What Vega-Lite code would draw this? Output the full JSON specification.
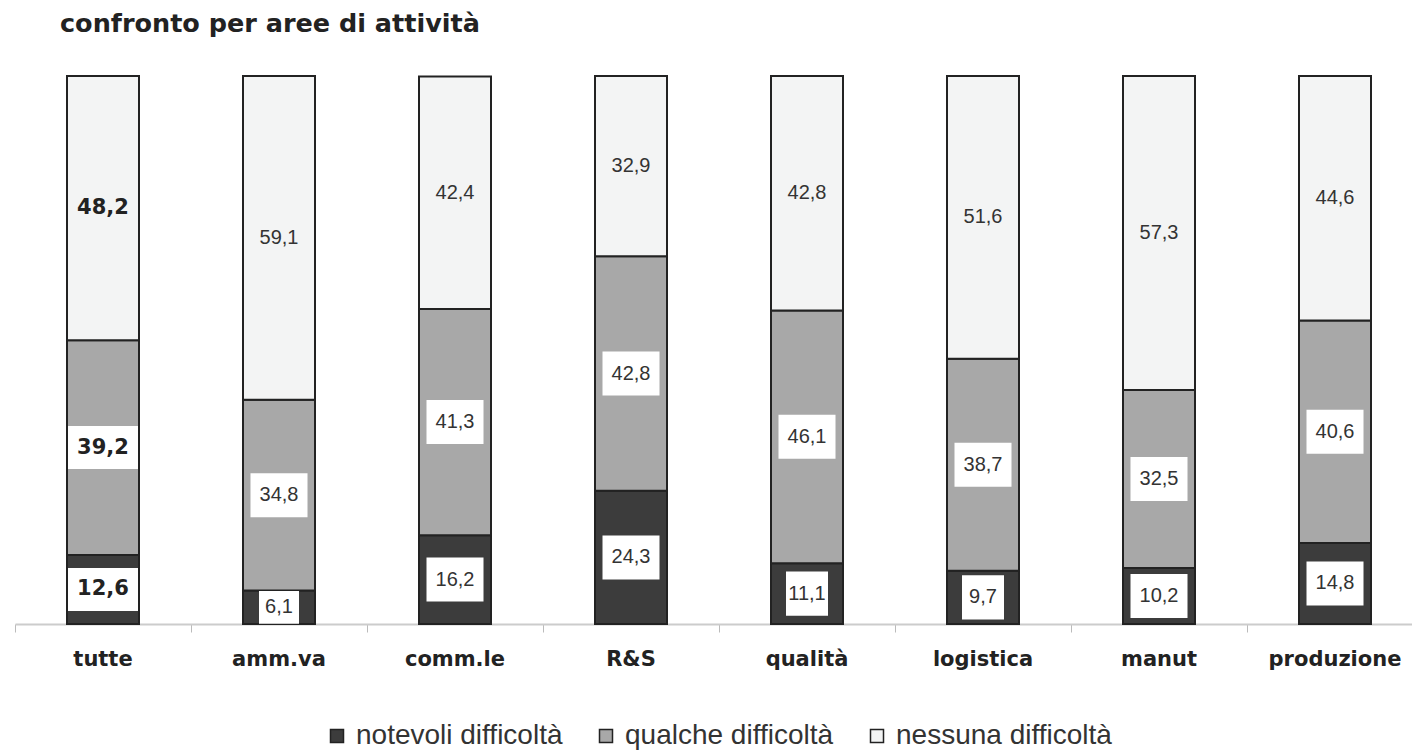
{
  "$schema": "https://vega.github.io/schema/vega-lite/v6.json",
  "width": 1397,
  "height": 548,
  "autosize": "none",
  "padding": {"left": 15, "top": 76, "right": 0, "bottom": 132},
  "background": "white",
  "config": {
    "view": {"stroke": null},
    "locale": {"number": {"decimal": ",", "thousands": ".", "grouping": [3], "currency": ["", " €"]}}
  },
  "title": {
    "text": "confronto per aree di attività",
    "anchor": "start",
    "frame": "group",
    "dx": 45,
    "offset": 18,
    "baseline": "alphabetic",
    "font": "DejaVu Sans",
    "fontSize": 25.5,
    "fontWeight": "bold",
    "color": "#222222"
  },
  "data": {
    "values": [
      {"area": "tutte", "tipo": "notevoli difficoltà", "k": 1, "value": 12.6},
      {"area": "tutte", "tipo": "qualche difficoltà", "k": 2, "value": 39.2},
      {"area": "tutte", "tipo": "nessuna difficoltà", "k": 3, "value": 48.2},
      {"area": "amm.va", "tipo": "notevoli difficoltà", "k": 1, "value": 6.1},
      {"area": "amm.va", "tipo": "qualche difficoltà", "k": 2, "value": 34.8},
      {"area": "amm.va", "tipo": "nessuna difficoltà", "k": 3, "value": 59.1},
      {"area": "comm.le", "tipo": "notevoli difficoltà", "k": 1, "value": 16.2},
      {"area": "comm.le", "tipo": "qualche difficoltà", "k": 2, "value": 41.3},
      {"area": "comm.le", "tipo": "nessuna difficoltà", "k": 3, "value": 42.4},
      {"area": "R&S", "tipo": "notevoli difficoltà", "k": 1, "value": 24.3},
      {"area": "R&S", "tipo": "qualche difficoltà", "k": 2, "value": 42.8},
      {"area": "R&S", "tipo": "nessuna difficoltà", "k": 3, "value": 32.9},
      {"area": "qualità", "tipo": "notevoli difficoltà", "k": 1, "value": 11.1},
      {"area": "qualità", "tipo": "qualche difficoltà", "k": 2, "value": 46.1},
      {"area": "qualità", "tipo": "nessuna difficoltà", "k": 3, "value": 42.8},
      {"area": "logistica", "tipo": "notevoli difficoltà", "k": 1, "value": 9.7},
      {"area": "logistica", "tipo": "qualche difficoltà", "k": 2, "value": 38.7},
      {"area": "logistica", "tipo": "nessuna difficoltà", "k": 3, "value": 51.6},
      {"area": "manut", "tipo": "notevoli difficoltà", "k": 1, "value": 10.2},
      {"area": "manut", "tipo": "qualche difficoltà", "k": 2, "value": 32.5},
      {"area": "manut", "tipo": "nessuna difficoltà", "k": 3, "value": 57.3},
      {"area": "produzione", "tipo": "notevoli difficoltà", "k": 1, "value": 14.8},
      {"area": "produzione", "tipo": "qualche difficoltà", "k": 2, "value": 40.6},
      {"area": "produzione", "tipo": "nessuna difficoltà", "k": 3, "value": 44.6}
    ]
  },
  "encoding": {
    "x": {
      "field": "area",
      "type": "nominal",
      "sort": null,
      "scale": {"paddingInner": 0, "paddingOuter": 0, "range": [0, 1408]},
      "axis": {
        "title": null,
        "bandPosition": 0,
        "labelAngle": 0,
        "labelFont": "DejaVu Sans",
        "labelFontWeight": "bold",
        "labelFontSize": 21,
        "labelColor": "#222222",
        "labelPadding": 16,
        "domainColor": "#cccccc",
        "domainWidth": 2,
        "tickColor": "#bbbbbb",
        "tickSize": 8,
        "tickWidth": 1
      }
    },
    "order": {"field": "k", "type": "quantitative"}
  },
  "layer": [
    {
      "mark": {"type": "bar", "width": 72, "stroke": "#222222", "strokeWidth": 2},
      "encoding": {
        "y": {"field": "value", "type": "quantitative", "stack": "zero", "scale": {"domain": [0, 100], "nice": false}, "axis": null},
        "fill": {
          "field": "tipo",
          "type": "nominal",
          "sort": ["notevoli difficoltà", "qualche difficoltà", "nessuna difficoltà"],
          "scale": {"domain": ["notevoli difficoltà", "qualche difficoltà", "nessuna difficoltà"], "range": ["#3c3c3c", "#a8a8a8", "#f3f4f4"]},
          "legend": {
            "title": null,
            "orient": "none",
            "legendX": 308,
            "legendY": 646,
            "direction": "horizontal",
            "symbolType": "square",
            "symbolSize": 169,
            "symbolStrokeColor": "#222222",
            "symbolStrokeWidth": 1.5,
            "labelFont": "Liberation Sans",
            "labelFontSize": 28,
            "labelColor": "#333333",
            "labelLimit": 500,
            "labelOffset": 5,
            "columnPadding": 29
          }
        }
      }
    },
    {
      "transform": [{"filter": "datum.k < 3 && datum.area != 'tutte'"}],
      "mark": {"type": "point", "filled": true, "fill": "white", "strokeWidth": 0, "opacity": 1},
      "encoding": {
        "y": {"field": "value", "type": "quantitative", "stack": "zero", "bandPosition": 0.5},
        "shape": {
          "condition": [
            {"test": "datum.value < 8", "value": "M-1,-0.82L1,-0.82L1,0.82L-1,0.82Z"},
            {"test": "datum.value < 10 || datum.value == 11.1", "value": "M-1,-1.05L1,-1.05L1,1.05L-1,1.05Z"}
          ],
          "value": "M-1,-0.772L1,-0.772L1,0.772L-1,0.772Z"
        },
        "size": {
          "condition": [
            {"test": "datum.value < 8", "value": 1600},
            {"test": "datum.value < 10 || datum.value == 11.1", "value": 1764}
          ],
          "value": 3249
        }
      }
    },
    {
      "transform": [{"filter": "datum.k < 3 && datum.area == 'tutte'"}],
      "mark": {"type": "point", "filled": true, "fill": "white", "strokeWidth": 0, "opacity": 1, "shape": "M-1,-0.614L1,-0.614L1,0.614L-1,0.614Z", "size": 4900},
      "encoding": {
        "y": {"field": "value", "type": "quantitative", "stack": "zero", "bandPosition": 0.5}
      }
    },
    {
      "transform": [{"filter": "datum.area != 'tutte'"}],
      "mark": {"type": "text", "font": "Liberation Sans", "fontSize": 20, "color": "#333333", "baseline": "middle", "align": "center"},
      "encoding": {
        "y": {"field": "value", "type": "quantitative", "stack": "zero", "bandPosition": 0.5},
        "text": {"field": "value", "type": "quantitative", "format": ".1f"}
      }
    },
    {
      "transform": [{"filter": "datum.area == 'tutte'"}],
      "mark": {"type": "text", "font": "DejaVu Sans", "fontWeight": "bold", "fontSize": 21, "color": "#222222", "baseline": "middle", "align": "center"},
      "encoding": {
        "y": {"field": "value", "type": "quantitative", "stack": "zero", "bandPosition": 0.5},
        "text": {"field": "value", "type": "quantitative", "format": ".1f"}
      }
    }
  ]
}
